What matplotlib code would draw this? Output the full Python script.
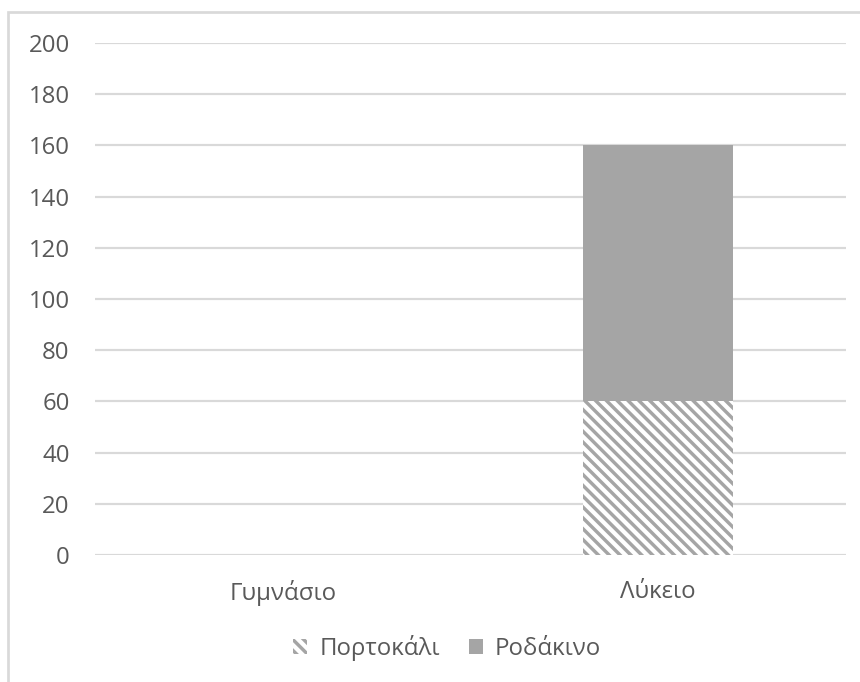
import matplotlib.pyplot as plt
from matplotlib.patches import Rectangle
import numpy as np

# -----------------------------
# Data
# -----------------------------
categories = ["Γυμνάσιο", "Λύκειο"]
portokali = [0, 60]
rodakino = [0, 100]
y_ticks = [0, 20, 40, 60, 80, 100, 120, 140, 160, 180, 200]

# -----------------------------
# Style
# -----------------------------
DPI = 130
W, H = 860, 682
TEXT = "#595959"
GRID = "#d9d9d9"
BAR = "#a5a5a5"

plt.rcParams["font.family"] = ["Open Sans", "DejaVu Sans"]
plt.rcParams["hatch.color"] = BAR
plt.rcParams["hatch.linewidth"] = 1.9

fig = plt.figure(figsize=(W / DPI, H / DPI), dpi=DPI)
ax = fig.add_axes([95 / W, 1 - 555 / H, (846 - 95) / W, (555 - 43) / H])

x = np.arange(len(categories))
width = 0.4

ax.bar(x, portokali, width, color="white", edgecolor=BAR, hatch="\\\\\\\\",
       linewidth=0, label="Πορτοκάλι", zorder=3)
ax.bar(x, rodakino, width, bottom=portokali, color=BAR, linewidth=0,
       label="Ροδάκινο", zorder=3)

ax.set_xlim(-0.5, len(categories) - 0.5)
ax.set_ylim(0, 200)
ax.set_yticks(y_ticks)
ax.set_xticks(x)
ax.set_xticklabels(categories)

ax.yaxis.grid(True, color=GRID, linewidth=1.2, zorder=0)
ax.set_axisbelow(True)
for s in ax.spines.values():
    s.set_visible(False)
ax.tick_params(axis="both", length=0, labelsize=13.3, labelcolor=TEXT)
ax.tick_params(axis="y", pad=14)
ax.tick_params(axis="x", pad=14)

leg = fig.legend(loc="center", bbox_to_anchor=(447 / W, 1 - 648 / H),
                 ncol=2, frameon=False, fontsize=13.3, handlelength=0.6,
                 handleheight=0.6, handletextpad=0.5, columnspacing=1.2)
for t in leg.get_texts():
    t.set_color(TEXT)

# chart border (clipped by the image edge on right and bottom)
fig.patches.append(Rectangle((8 / W, -0.1), 1.1, 1 - 12 / H + 0.1,
                             transform=fig.transFigure, fill=False,
                             edgecolor=GRID, linewidth=1.5))

fig.savefig("out.png", dpi=DPI)
